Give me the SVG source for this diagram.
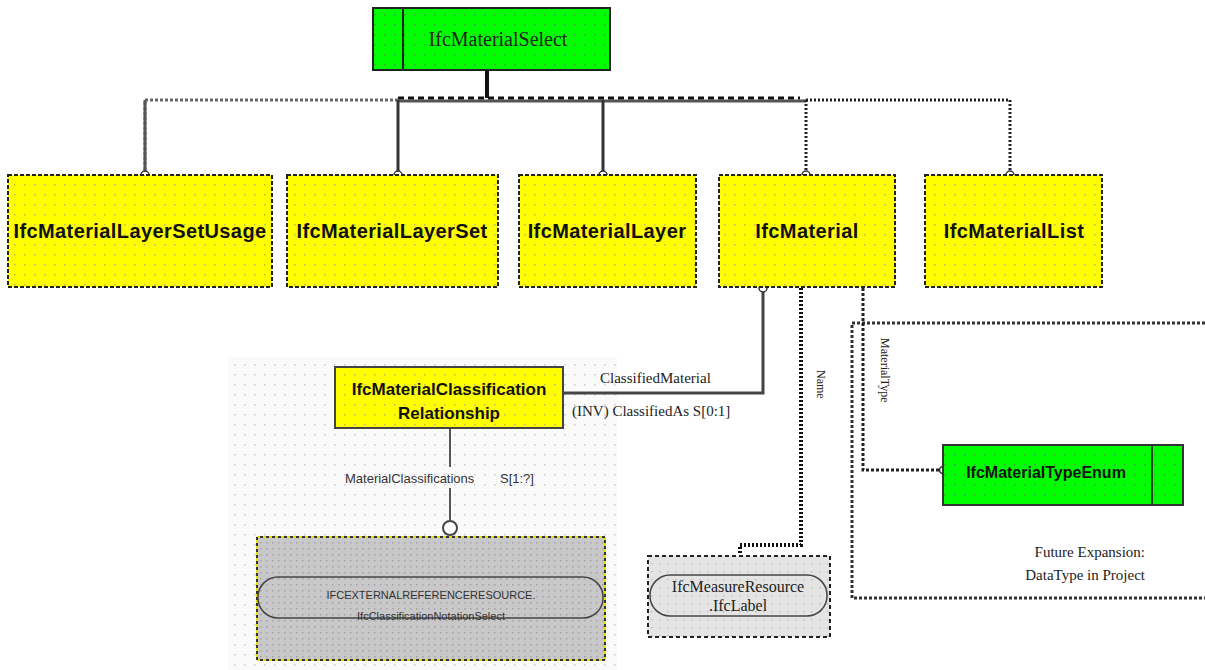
<svg xmlns="http://www.w3.org/2000/svg" width="1205" height="670" viewBox="0 0 1205 670">
<defs>
<pattern id="dotY" width="10" height="10" patternUnits="userSpaceOnUse"><rect width="10" height="10" fill="#ffff00"/><rect x="4" y="4" width="1.5" height="1.5" fill="#b8b860"/></pattern>
<pattern id="dotG" width="10" height="10" patternUnits="userSpaceOnUse"><rect width="10" height="10" fill="#00ff00"/><rect x="4" y="4" width="1.5" height="1.5" fill="#40a040"/></pattern>
<pattern id="dotW" width="10" height="10" patternUnits="userSpaceOnUse"><rect width="10" height="10" fill="#fafafa"/><rect x="4" y="4" width="1.5" height="1.5" fill="#c8c8c8"/></pattern>
<pattern id="dotGr" width="6" height="6" patternUnits="userSpaceOnUse"><rect width="6" height="6" fill="#c8c8c8"/><rect x="2" y="2" width="1.5" height="1.5" fill="#a8a0a8"/></pattern>
<pattern id="dotL" width="8" height="8" patternUnits="userSpaceOnUse"><rect width="8" height="8" fill="#e4e4e4"/><rect x="3" y="3" width="1.5" height="1.5" fill="#c0c0c0"/></pattern>
</defs>
<style>
.ent{stroke:#222;stroke-width:2;stroke-dasharray:4 2}
.bold{font-family:"Liberation Sans",Arial,sans-serif;font-weight:bold;font-size:20px;letter-spacing:0.4px;fill:#111;text-anchor:middle}
.bold2{font-family:"Liberation Sans",Arial,sans-serif;font-weight:bold;font-size:17px;fill:#111;text-anchor:middle}
.serif{font-family:"Liberation Serif","Times New Roman",serif;fill:#222}
.small{font-family:"Liberation Sans",Arial,sans-serif;font-size:13px;fill:#333}
.solid{fill:none;stroke:#444;stroke-width:3}
.dotted{fill:none;stroke:#222;stroke-width:3;stroke-dasharray:2 2}
.dot{fill:#fff;stroke:#333;stroke-width:1.5}
</style>

<!-- background areas -->
<rect x="228" y="357" width="389" height="313" fill="url(#dotW)"/>
<rect id="future" x="852" y="323" width="360" height="275" fill="#fff" stroke="#333" stroke-width="3" stroke-dasharray="3 2"/>

<g id="connectors">
  <line x1="487" y1="70" x2="487" y2="98" stroke="#111" stroke-width="4"/>
  <polyline points="145,175 145,100 398,100" fill="none" stroke="#666" stroke-width="3" stroke-dasharray="3 2"/>
  <line x1="145" y1="100" x2="145" y2="175" stroke="#555" stroke-width="3"/>
  <line x1="398" y1="101" x2="806" y2="101" stroke="#555" stroke-width="3"/>
  <line x1="398" y1="98" x2="800" y2="98" stroke="#111" stroke-width="3" stroke-dasharray="6 4"/>
  <line x1="398" y1="100" x2="398" y2="175" stroke="#333" stroke-width="3"/>
  <line x1="603" y1="100" x2="603" y2="175" stroke="#333" stroke-width="3"/>
  <polyline class="dotted" points="806,100 806,175"/>
  <polyline class="dotted" points="806,100 1010,100 1010,175"/>
  <polyline class="solid" points="763,289 763,393 563,393"/>
  <polyline fill="none" stroke="#111" stroke-width="4" stroke-dasharray="2 2" points="801,288 801,545 740,545 740,555"/>
  <polyline fill="none" stroke="#222" stroke-width="3" stroke-dasharray="3 2" points="863,288 863,470 943,470"/>
  <line x1="450" y1="428" x2="450" y2="467" stroke="#555" stroke-width="2"/>
  <line x1="450" y1="488" x2="450" y2="520" stroke="#555" stroke-width="2"/>
  <circle class="dot" cx="145" cy="175" r="4"/>
  <circle class="dot" cx="398" cy="175" r="4"/>
  <circle class="dot" cx="603" cy="175" r="4"/>
  <circle class="dot" cx="806" cy="175" r="4"/>
  <circle class="dot" cx="1010" cy="175" r="4"/>
  <circle class="dot" cx="763" cy="288" r="4"/>
  <circle class="dot" cx="943" cy="470" r="3.5"/>
  <circle cx="450" cy="528" r="7" fill="#fff" stroke="#444" stroke-width="2"/>
  <text class="serif" x="600" y="383" font-size="15">ClassifiedMaterial</text>
  <text class="serif" x="572" y="416" font-size="15">(INV) ClassifiedAs S[0:1]</text>
  <text class="serif" font-size="12" transform="translate(817,370) rotate(90)">Name</text>
  <text class="serif" font-size="12" transform="translate(881,338) rotate(90)">MaterialType</text>
  <text class="small" x="345" y="483">MaterialClassifications</text>
  <text class="small" x="500" y="483">S[1:?]</text>
</g>

<g id="IfcMaterialSelect">
  <rect x="373" y="8" width="237" height="62" fill="url(#dotG)" stroke="#222" stroke-width="2"/>
  <line x1="403" y1="8" x2="403" y2="70" stroke="#222" stroke-width="2"/>
  <text class="serif" x="498" y="46" font-size="20" text-anchor="middle">IfcMaterialSelect</text>
</g>

<g id="IfcMaterialLayerSetUsage">
  <rect x="8" y="175" width="264" height="112" fill="url(#dotY)" class="ent"/>
  <text class="bold" x="140" y="238">IfcMaterialLayerSetUsage</text>
</g>
<g id="IfcMaterialLayerSet">
  <rect x="287" y="175" width="211" height="112" fill="url(#dotY)" class="ent"/>
  <text class="bold" x="392" y="238">IfcMaterialLayerSet</text>
</g>
<g id="IfcMaterialLayer">
  <rect x="519" y="175" width="177" height="112" fill="url(#dotY)" class="ent"/>
  <text class="bold" x="607" y="238">IfcMaterialLayer</text>
</g>
<g id="IfcMaterial">
  <rect x="719" y="175" width="176" height="112" fill="url(#dotY)" class="ent"/>
  <text class="bold" x="807" y="238">IfcMaterial</text>
</g>
<g id="IfcMaterialList">
  <rect x="925" y="175" width="177" height="112" fill="url(#dotY)" class="ent"/>
  <text class="bold" x="1014" y="238">IfcMaterialList</text>
</g>

<g id="IfcMaterialClassificationRelationship">
  <rect x="335" y="367" width="228" height="61" fill="url(#dotY)" stroke="#444" stroke-width="2"/>
  <text class="bold2" x="449" y="395">IfcMaterialClassification</text>
  <text class="bold2" x="449" y="419">Relationship</text>
</g>

<g id="IfcClassificationNotationSelect">
  <rect x="257" y="537" width="348" height="123" fill="url(#dotGr)" stroke="#e8e000" stroke-width="2" stroke-dasharray="3 3"/>
  <rect x="257" y="537" width="348" height="123" fill="none" stroke="#333" stroke-width="2" stroke-dasharray="3 3" stroke-dashoffset="3"/>
  <rect x="258" y="577" width="345" height="41" rx="20" fill="none" stroke="#444" stroke-width="1.5"/>
  <text x="431" y="599" text-anchor="middle" font-family="Liberation Sans,Arial,sans-serif" font-size="11" fill="#333">IFCEXTERNALREFERENCERESOURCE.</text>
  <text x="431" y="620" text-anchor="middle" font-family="Liberation Sans,Arial,sans-serif" font-size="11" fill="#333">IfcClassificationNotationSelect</text>
</g>

<g id="IfcLabel">
  <rect x="648" y="556" width="182" height="81" fill="url(#dotL)" stroke="#222" stroke-width="2" stroke-dasharray="4 3"/>
  <rect x="650" y="575" width="177" height="41" rx="20" fill="none" stroke="#444" stroke-width="1.5"/>
  <text class="serif" x="738" y="592" font-size="16" text-anchor="middle" fill="#444">IfcMeasureResource</text>
  <text class="serif" x="738" y="611" font-size="16" text-anchor="middle" fill="#444">.IfcLabel</text>
</g>

<g id="IfcMaterialTypeEnum">
  <rect x="943" y="445" width="240" height="60" fill="url(#dotG)" stroke="#333" stroke-width="2"/>
  <line x1="1152" y1="445" x2="1152" y2="505" stroke="#224422" stroke-width="2"/>
  <text class="bold2" x="1046" y="478" style="font-size:16px">IfcMaterialTypeEnum</text>
</g>

<g id="futureText">
  <text class="serif" x="1145" y="557" font-size="15" text-anchor="end">Future Expansion:</text>
  <text class="serif" x="1145" y="580" font-size="15" text-anchor="end">DataType in Project</text>
</g>
</svg>
